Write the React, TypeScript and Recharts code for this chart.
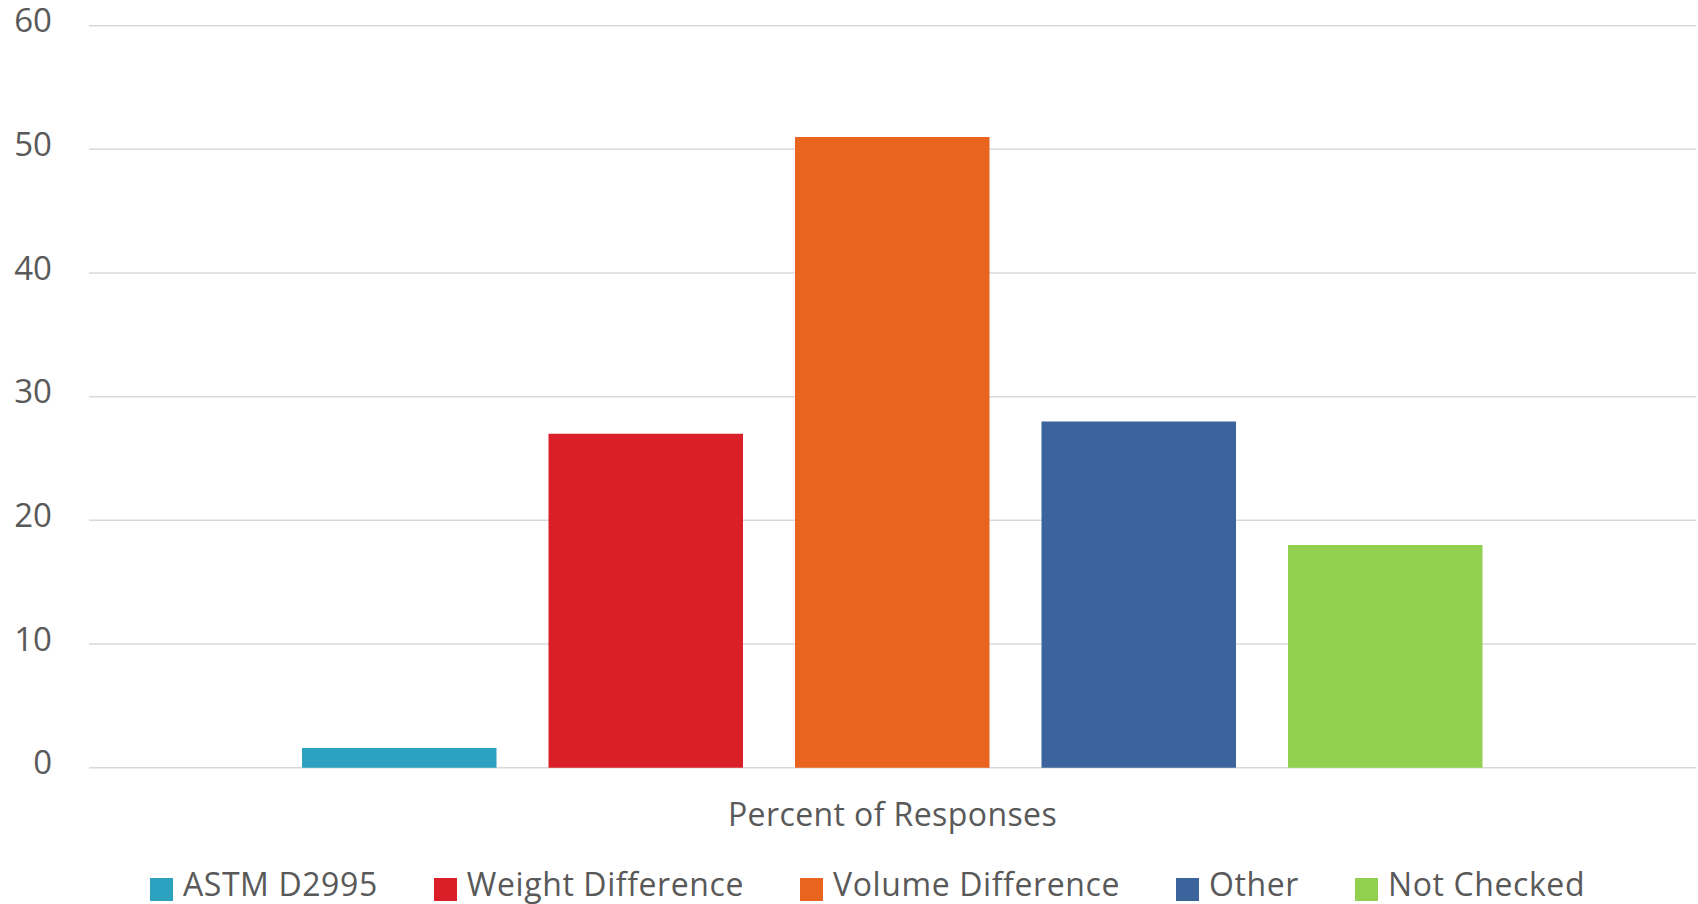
import React from 'react';
import { BarChart, Bar, XAxis, YAxis, CartesianGrid, Legend } from 'recharts';

// Survey result: how each method is used, as a percent of responses
const categories = ['Percent of Responses'];
const seriesNames = ['ASTM D2995', 'Weight Difference', 'Volume Difference', 'Other', 'Not Checked'];
const seriesValues = [1.6, 27, 51, 28, 18];
const seriesColors = ['#2CA2C0', '#DA1F29', '#E9641E', '#3A649B', '#92D150'];
const yTicks = [0, 10, 20, 30, 40, 50, 60];

const seriesKeys = seriesNames.map((_, i) => `s${i}`);

const data = categories.map((category) => {
  const row: Record<string, string | number> = { category };
  seriesKeys.forEach((k, i) => {
    row[k] = seriesValues[i];
  });
  return row;
});

const FONT = '"Open Sans", "DejaVu Sans", sans-serif';
const TEXT = '#595959';
const GRID = '#D9D9D9';

const W = 1698;
const H = 904;
const LEGEND_H = 40;

const YTick = (props: any) => {
  const { x, y, payload } = props;
  return (
    <text x={x} y={y} dy={6.5} textAnchor="end" fill={TEXT} fontSize={33} fontFamily={FONT}>
      {payload.value}
    </text>
  );
};

const XTick = (props: any) => {
  const { x, y, payload } = props;
  return (
    <text
      x={x}
      y={y}
      dy={50}
      textAnchor="middle"
      fill={TEXT}
      fontSize={32}
      letterSpacing={0.4}
      fontFamily={FONT}
    >
      {payload.value}
    </text>
  );
};

// Legend keeps the series order rather than the library's sorted payload
const LegendContent = () => (
  <div
    style={{
      display: 'flex',
      justifyContent: 'center',
      alignItems: 'flex-start',
      height: LEGEND_H,
      gap: 56,
      fontFamily: FONT,
      fontSize: 32,
      letterSpacing: 0.6,
      lineHeight: `${LEGEND_H}px`,
      color: TEXT,
      whiteSpace: 'nowrap',
    }}
  >
    {seriesNames.map((name, i) => (
      <div key={name} style={{ display: 'flex', alignItems: 'flex-start', height: LEGEND_H }}>
        <span
          style={{
            display: 'inline-block',
            width: 23,
            height: 23,
            marginTop: 14,
            marginRight: 10,
            background: seriesColors[i],
          }}
        />
        <span>{name}</span>
      </div>
    ))}
  </div>
);

export default function App() {
  return (
    <div style={{ position: 'absolute', left: 0, top: 0, width: W, height: H, background: '#fff' }}>
      <BarChart
        width={W}
        height={H}
        data={data}
        margin={{ top: 25.7, right: 2, bottom: 0, left: 0 }}
        barGap={52}
      >
        <CartesianGrid horizontal vertical={false} stroke={GRID} strokeWidth={1.5} />
        <XAxis
          dataKey="category"
          axisLine={false}
          tickLine={false}
          height={96.3}
          tick={<XTick />}
          interval={0}
        />
        <YAxis
          domain={[0, 60]}
          ticks={yTicks}
          axisLine={false}
          tickLine={false}
          width={89}
          tickSize={6}
          tickMargin={31}
          tick={<YTick />}
          interval={0}
        />
        <Legend
          verticalAlign="bottom"
          height={LEGEND_H}
          wrapperStyle={{ left: 0, width: 1735, bottom: 0, height: LEGEND_H }}
          content={<LegendContent />}
        />
        {seriesKeys.map((k, i) => (
          <Bar
            key={k}
            dataKey={k}
            name={seriesNames[i]}
            fill={seriesColors[i]}
            barSize={194.5}
            isAnimationActive={false}
          />
        ))}
      </BarChart>
    </div>
  );
}
